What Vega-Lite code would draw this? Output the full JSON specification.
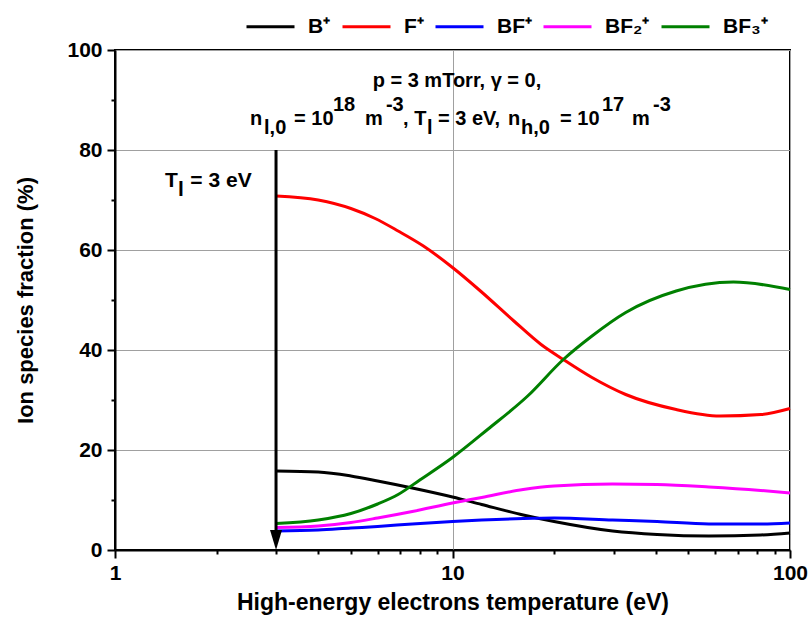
{
  "$schema": "https://vega.github.io/schema/vega-lite/v6.json",
  "autosize": {"type": "none"},
  "padding": {"left": 115, "top": 50, "right": 18, "bottom": 80},
  "width": 675,
  "height": 500,
  "background": "white",
  "datasets": {
    "fractions": [
      {"T": 3, "ion": "B⁺", "pct": 15.8}, {"T": 4, "ion": "B⁺", "pct": 15.6}, {"T": 5, "ion": "B⁺", "pct": 14.8},
      {"T": 6, "ion": "B⁺", "pct": 13.8}, {"T": 7.6, "ion": "B⁺", "pct": 12.4}, {"T": 10, "ion": "B⁺", "pct": 10.6},
      {"T": 12.2, "ion": "B⁺", "pct": 9.1}, {"T": 16.2, "ion": "B⁺", "pct": 7.0}, {"T": 20, "ion": "B⁺", "pct": 5.7},
      {"T": 29.8, "ion": "B⁺", "pct": 3.8}, {"T": 40.4, "ion": "B⁺", "pct": 3.1}, {"T": 57.5, "ion": "B⁺", "pct": 2.8},
      {"T": 81.9, "ion": "B⁺", "pct": 3.0}, {"T": 100, "ion": "B⁺", "pct": 3.4},

      {"T": 3, "ion": "F⁺", "pct": 70.8}, {"T": 4, "ion": "F⁺", "pct": 70.0}, {"T": 5, "ion": "F⁺", "pct": 68.3},
      {"T": 5.9, "ion": "F⁺", "pct": 66.3}, {"T": 6.9, "ion": "F⁺", "pct": 63.8}, {"T": 8.2, "ion": "F⁺", "pct": 60.8},
      {"T": 10, "ion": "F⁺", "pct": 56.5}, {"T": 12.1, "ion": "F⁺", "pct": 51.8}, {"T": 15.2, "ion": "F⁺", "pct": 45.8},
      {"T": 18.3, "ion": "F⁺", "pct": 41.1}, {"T": 21.3, "ion": "F⁺", "pct": 38.1}, {"T": 25.9, "ion": "F⁺", "pct": 34.5},
      {"T": 32.6, "ion": "F⁺", "pct": 31.1}, {"T": 46, "ion": "F⁺", "pct": 28.1}, {"T": 62, "ion": "F⁺", "pct": 26.8},
      {"T": 82, "ion": "F⁺", "pct": 27.1}, {"T": 100, "ion": "F⁺", "pct": 28.3},

      {"T": 3, "ion": "BF⁺", "pct": 3.8}, {"T": 4, "ion": "BF⁺", "pct": 4.0}, {"T": 5, "ion": "BF⁺", "pct": 4.4},
      {"T": 6, "ion": "BF⁺", "pct": 4.7}, {"T": 7.6, "ion": "BF⁺", "pct": 5.2}, {"T": 10, "ion": "BF⁺", "pct": 5.7},
      {"T": 12.2, "ion": "BF⁺", "pct": 6.0}, {"T": 16.2, "ion": "BF⁺", "pct": 6.3}, {"T": 20, "ion": "BF⁺", "pct": 6.4},
      {"T": 29.8, "ion": "BF⁺", "pct": 6.0}, {"T": 40.4, "ion": "BF⁺", "pct": 5.7}, {"T": 57.5, "ion": "BF⁺", "pct": 5.2},
      {"T": 81.9, "ion": "BF⁺", "pct": 5.2}, {"T": 100, "ion": "BF⁺", "pct": 5.4},

      {"T": 3, "ion": "BF₂⁺", "pct": 4.5}, {"T": 4, "ion": "BF₂⁺", "pct": 4.8}, {"T": 5, "ion": "BF₂⁺", "pct": 5.5},
      {"T": 6, "ion": "BF₂⁺", "pct": 6.4}, {"T": 7.6, "ion": "BF₂⁺", "pct": 7.7}, {"T": 10, "ion": "BF₂⁺", "pct": 9.4},
      {"T": 12.2, "ion": "BF₂⁺", "pct": 10.5}, {"T": 16.2, "ion": "BF₂⁺", "pct": 12.1}, {"T": 20, "ion": "BF₂⁺", "pct": 12.8},
      {"T": 29.8, "ion": "BF₂⁺", "pct": 13.2}, {"T": 40.4, "ion": "BF₂⁺", "pct": 13.1}, {"T": 57.5, "ion": "BF₂⁺", "pct": 12.6},
      {"T": 81.9, "ion": "BF₂⁺", "pct": 11.9}, {"T": 100, "ion": "BF₂⁺", "pct": 11.4},

      {"T": 3, "ion": "BF₃⁺", "pct": 5.3}, {"T": 4, "ion": "BF₃⁺", "pct": 6.0}, {"T": 5, "ion": "BF₃⁺", "pct": 7.3},
      {"T": 6, "ion": "BF₃⁺", "pct": 9.2}, {"T": 6.9, "ion": "BF₃⁺", "pct": 11.1}, {"T": 8, "ion": "BF₃⁺", "pct": 14.0},
      {"T": 10, "ion": "BF₃⁺", "pct": 18.5}, {"T": 12.7, "ion": "BF₃⁺", "pct": 24.1}, {"T": 16.7, "ion": "BF₃⁺", "pct": 30.8},
      {"T": 21.3, "ion": "BF₃⁺", "pct": 38.1}, {"T": 25.9, "ion": "BF₃⁺", "pct": 42.8}, {"T": 32.6, "ion": "BF₃⁺", "pct": 47.5},
      {"T": 46, "ion": "BF₃⁺", "pct": 51.8}, {"T": 68, "ion": "BF₃⁺", "pct": 53.6}, {"T": 100, "ion": "BF₃⁺", "pct": 52.1}
    ],
    "conditions": [
      {"T": 2.512, "pct": 85.0, "text": "n"},
      {"T": 2.764, "pct": 83.2, "text": "l,0"},
      {"T": 3.392, "pct": 85.0, "text": "= 10"},
      {"T": 4.425, "pct": 87.8, "text": "18"},
      {"T": 5.506, "pct": 85.0, "text": "m"},
      {"T": 6.35, "pct": 87.8, "text": "-3"},
      {"T": 7.135, "pct": 85.0, "text": ", T"},
      {"T": 8.403, "pct": 83.2, "text": "l"},
      {"T": 9.06, "pct": 85.0, "text": "= 3 eV,"},
      {"T": 14.60, "pct": 85.0, "text": "n"},
      {"T": 15.96, "pct": 83.2, "text": "h,0"},
      {"T": 20.83, "pct": 85.0, "text": "= 10"},
      {"T": 27.73, "pct": 87.8, "text": "17"},
      {"T": 34.02, "pct": 85.0, "text": "m"},
      {"T": 39.3, "pct": 87.8, "text": "-3"}
    ],
    "arrowLabel": [
      {"T": 1.406, "pct": 72.7, "text": "T"},
      {"T": 1.537, "pct": 70.8, "text": "l"},
      {"T": 1.672, "pct": 72.7, "text": "= 3 eV"}
    ]
  },
  "layer": [
    {
      "data": {"name": "fractions"},
      "mark": {"type": "line", "interpolate": "monotone", "strokeWidth": 3},
      "encoding": {
        "x": {
          "field": "T", "type": "quantitative",
          "scale": {"type": "log", "domain": [1, 100], "nice": false},
          "axis": {
            "orient": "bottom", "values": [1, 10, 100], "format": "d",
            "grid": true, "tickSize": 8, "labelPadding": 4,
            "labelFlush": false, "labelOverlap": false,
            "title": "High-energy electrons temperature (eV)", "titlePadding": 8, "titleFontSize": 23
          }
        },
        "y": {
          "field": "pct", "type": "quantitative",
          "scale": {"domain": [0, 100], "nice": false},
          "axis": {
            "orient": "left", "values": [0, 20, 40, 60, 80, 100],
            "grid": true, "tickSize": 8, "labelPadding": 5,
            "title": "Ion species fraction (%)", "titlePadding": 29, "titleFontSize": 22
          }
        },
        "color": {
          "field": "ion", "type": "nominal",
          "scale": {
            "domain": ["B⁺", "F⁺", "BF⁺", "BF₂⁺", "BF₃⁺"],
            "range": ["#000000", "#ff0000", "#0000ff", "#ff00ff", "#008000"]
          },
          "legend": {
            "orient": "none", "legendX": 130, "legendY": -49,
            "direction": "horizontal", "title": null,
            "symbolType": "stroke", "symbolSize": 2304, "symbolStrokeWidth": 3,
            "labelFont": "Liberation Sans", "labelFontSize": 21, "labelFontWeight": "bold",
            "labelColor": "black", "labelOffset": 12, "columnPadding": 5, "padding": 0
          }
        }
      }
    },
    {
      "data": {"values": [{"T": 3, "from": 80, "to": 4}]},
      "mark": {"type": "rule", "strokeWidth": 3, "color": "black"},
      "encoding": {
        "x": {
          "field": "T", "type": "quantitative",
          "scale": {"type": "log", "domain": [1, 100], "nice": false},
          "axis": {
            "orient": "bottom", "values": [2, 3, 4, 5, 6, 7, 8, 9, 20, 30, 40, 50, 60, 70, 80, 90],
            "labels": false, "domain": false, "grid": false, "tickSize": 4, "title": null
          }
        },
        "y": {
          "field": "from", "type": "quantitative",
          "scale": {"domain": [0, 100], "nice": false},
          "axis": {
            "orient": "left", "values": [10, 30, 50, 70, 90],
            "labels": false, "domain": false, "grid": false, "tickSize": 4, "title": null
          }
        },
        "y2": {"field": "to"}
      }
    },
    {
      "data": {"values": [{"T": 3, "pct": 2}]},
      "mark": {"type": "point", "shape": "M-0.6,-1L0.6,-1L0,1Z", "size": 400, "filled": true, "color": "black", "opacity": 1},
      "encoding": {
        "x": {"field": "T", "type": "quantitative", "scale": {"type": "log", "domain": [1, 100], "nice": false}, "axis": null},
        "y": {"field": "pct", "type": "quantitative", "scale": {"domain": [0, 100], "nice": false}, "axis": null}
      }
    },
    {
      "data": {"values": [{"T": 10.31, "pct": 92.6, "text": "p = 3 mTorr, γ = 0,"}]},
      "mark": {"type": "text", "align": "center", "baseline": "alphabetic", "font": "Liberation Sans", "fontSize": 20, "fontWeight": "bold", "color": "black"},
      "encoding": {
        "x": {"field": "T", "type": "quantitative", "scale": {"type": "log", "domain": [1, 100], "nice": false}, "axis": null},
        "y": {"field": "pct", "type": "quantitative", "scale": {"domain": [0, 100], "nice": false}, "axis": null},
        "text": {"field": "text"}
      }
    },
    {
      "data": {"name": "conditions"},
      "mark": {"type": "text", "align": "left", "baseline": "alphabetic", "font": "Liberation Sans", "fontSize": 20, "fontWeight": "bold", "color": "black"},
      "encoding": {
        "x": {"field": "T", "type": "quantitative", "scale": {"type": "log", "domain": [1, 100], "nice": false}, "axis": null},
        "y": {"field": "pct", "type": "quantitative", "scale": {"domain": [0, 100], "nice": false}, "axis": null},
        "text": {"field": "text"}
      }
    },
    {
      "data": {"name": "arrowLabel"},
      "mark": {"type": "text", "align": "left", "baseline": "alphabetic", "font": "Liberation Sans", "fontSize": 21, "fontWeight": "bold", "color": "black"},
      "encoding": {
        "x": {"field": "T", "type": "quantitative", "scale": {"type": "log", "domain": [1, 100], "nice": false}, "axis": null},
        "y": {"field": "pct", "type": "quantitative", "scale": {"domain": [0, 100], "nice": false}, "axis": null},
        "text": {"field": "text"}
      }
    }
  ],
  "resolve": {"axis": {"x": "independent", "y": "independent"}},
  "config": {
    "view": {"stroke": "black", "strokeWidth": 2},
    "font": "Liberation Sans",
    "axis": {
      "labelFont": "Liberation Sans", "labelFontSize": 21, "labelFontWeight": "bold", "labelColor": "black",
      "titleFont": "Liberation Sans", "titleFontSize": 22, "titleFontWeight": "bold", "titleColor": "black",
      "domainColor": "black", "domainWidth": 2, "tickColor": "black", "tickWidth": 2,
      "gridColor": "#a0a0a0", "gridWidth": 1, "gridOpacity": 1
    }
  }
}
